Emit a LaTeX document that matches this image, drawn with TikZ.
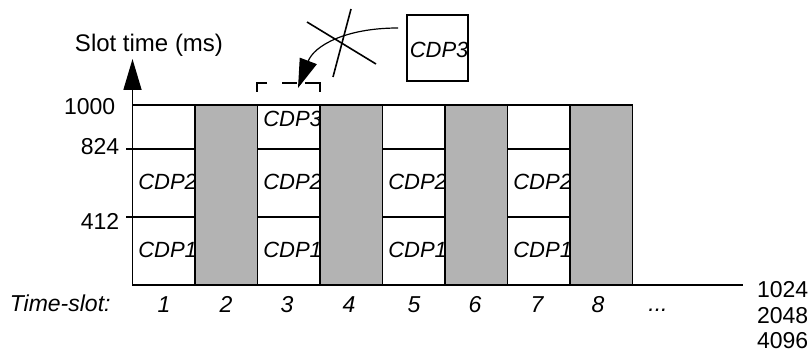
\documentclass[tikz,border=0pt]{standalone}
\usepackage{fontspec}
\setmainfont{Liberation Sans}
\usetikzlibrary{arrows.meta}
\definecolor{slotgray}{HTML}{B3B3B3}
\begin{document}
\begin{tikzpicture}[x=1pt,y=-1pt,line width=1.6pt,
  lbl/.style={font=\fontsize{23}{26}\selectfont,inner sep=0pt},
  ilbl/.style={font=\fontsize{23}{26}\selectfont\itshape,inner sep=0pt},
  clbl/.style={font=\fontsize{22}{25}\selectfont\itshape,inner sep=0pt,anchor=base west},
  slotcol/.style={draw,inner sep=0pt,outer sep=0pt,minimum width=62.5pt,minimum height=180pt},
  whitecol/.style={slotcol,fill=white},
  graycol/.style={slotcol,fill=slotgray}]
\useasboundingbox (0,0) rectangle (810,352);

% white columns with cells
\foreach \i in {1,3,5,7}{
  \node[whitecol] (col\i) at ({132.5+62.5*(\i-1)+31.25},195) {};
  \draw (col\i.west |- 0,149) -- (col\i.east |- 0,149);
  \draw (col\i.west |- 0,217) -- (col\i.east |- 0,217);
  \node[clbl] (cdpa\i) at ({132.5+62.5*(\i-1)+5},258) {CDP1};
  \node[clbl] (cdpb\i) at ({132.5+62.5*(\i-1)+5},190) {CDP2};
}
\node[clbl] (cdpc3) at (262.5,127) {CDP3};

% gray columns
\foreach \i in {2,4,6,8}{
  \node[graycol] (col\i) at ({132.5+62.5*(\i-1)+31.25},195) {};
}

% axes
\coordinate (origin) at (132.5,285);
\coordinate (ytip) at (132.5,59);
\coordinate (xend) at (743,285);
\draw[-{Triangle[length=31pt,width=18pt]}] (origin) -- (ytip);
\draw (origin) -- (xend);
\draw (126,149) -- (132.5,149);
\draw (126,217) -- (132.5,217);

% axis labels
\node[font=\fontsize{24}{27}\selectfont,inner sep=0pt,anchor=base] (ylabel) at (149,52) {Slot time (ms)};
\node[lbl,anchor=base east] (v1000) at (116,115) {1000};
\node[lbl,anchor=base east] (v824) at (120,155) {824};
\node[lbl,anchor=base east] (v412) at (120,230) {412};

\node[ilbl,anchor=base west] (tslot) at (9,311) {Time-slot:};
\foreach \n/\x in {1/164,2/226,3/287,4/349,5/414,6/475,7/537,8/598}{
  \node[ilbl,anchor=base] (num\n) at (\x,312) {\n};
}
\node[ilbl,anchor=base] (dots) at (658,311) {...};

\node[lbl,anchor=base east] (s1024) at (809,298) {1024};
\node[lbl,anchor=base east] (s2048) at (809,323) {2048};
\node[lbl,anchor=base east] (s4096) at (809,348) {4096};

% new CDP3 box
\node[draw,inner sep=0pt,outer sep=0pt,minimum width=61pt,minimum height=66pt,anchor=north west] (newbox) at (407,15) {};
\begin{scope}
  \clip (newbox.south west) rectangle (newbox.north east);
  \node[clbl] (newlbl) at (409,58) {CDP3};
\end{scope}

% dashed bracket over slot 3
\draw (267,83) -- (257,83) -- (257,92);
\draw (282,83) -- (297,83);
\draw (305,83) -- (320,83) -- (320,92);

% arrow from box to bracket
\coordinate (arrstart) at (398,28);
\coordinate (arrtip) at (298,88);
\draw[line width=1.2pt,-{Triangle[length=29pt,width=18pt]}] (arrstart) .. controls (345,28) and (314,46) .. (arrtip);

% cross
\coordinate (xa1) at (307,22);
\coordinate (xa2) at (376,64);
\coordinate (xb1) at (351,9);
\coordinate (xb2) at (333,77);
\draw (xa1) -- (xa2);
\draw (xb1) -- (xb2);
\end{tikzpicture}
\end{document}
